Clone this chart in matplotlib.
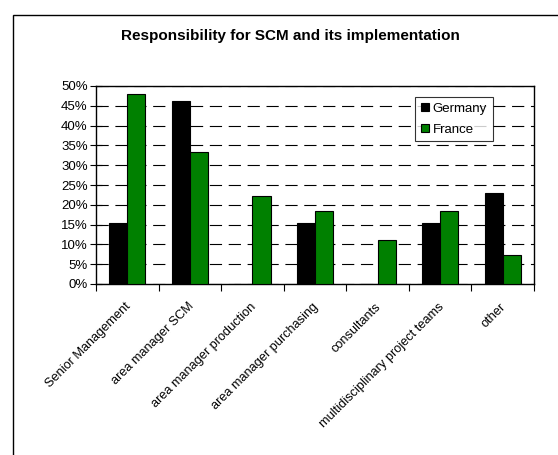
import matplotlib
matplotlib.use("Agg")
import matplotlib.pyplot as plt
from matplotlib.patches import Rectangle
import numpy as np

plt.rcParams["font.family"] = ["Liberation Sans", "DejaVu Sans"]

categories = [
    "Senior Management", "area manager SCM", "area manager production",
    "area manager purchasing", "consultants", "multidisciplinary project teams",
    "other",
]
germany = [15.4, 46.2, 0.0, 15.4, 0.0, 15.4, 23.1]
france = [48.1, 33.3, 22.2, 18.5, 11.1, 18.5, 7.4]
yticks = list(range(0, 55, 5))

fig = plt.figure(figsize=(5.58, 4.55), dpi=100)

# outer chart border (runs off the right and bottom of the image)
fig.add_artist(Rectangle((13 / 558, -0.1), 1.2, 1 - 15 / 455 + 0.1,
                         transform=fig.transFigure, fill=False,
                         edgecolor="black", lw=1.0))

ax = fig.add_axes([96 / 558, 1 - 284 / 455, (534 - 96) / 558, (284 - 86) / 455])

x = np.arange(len(categories))
w = 0.29
ax.bar(x - w / 2, germany, w, color="black", edgecolor="black", lw=0.8,
       label="Germany", zorder=3)
ax.bar(x + w / 2, france, w, color="#008000", edgecolor="black", lw=0.8,
       label="France", zorder=3)

ax.set_xlim(-0.5, len(categories) - 0.5)
ax.set_ylim(0, 50)
ax.set_yticks(yticks)
ax.set_yticklabels([f"{v}%" for v in yticks], fontsize=9.5)
ax.yaxis.grid(True, color="black", ls=(0, (11, 6)), lw=0.8, zorder=0)
ax.tick_params(axis="y", direction="inout", length=8, width=0.8, pad=2)

ax.set_xticks(np.arange(len(categories) + 1) - 0.5)
ax.set_xticklabels([])
ax.tick_params(axis="x", direction="out", length=5, width=0.8)
for i, lab in enumerate(categories):
    ax.text(i - 0.04, -4.2, lab, rotation=45, ha="right", va="top",
            rotation_mode="anchor", fontsize=9.2)

for s in ax.spines.values():
    s.set_linewidth(1.0)

leg = ax.legend(loc="upper right", bbox_to_anchor=(493 / 558, 1 - 97 / 455),
                bbox_transform=fig.transFigure, fontsize=9.5, frameon=True,
                fancybox=False, edgecolor="black", handlelength=0.6,
                handleheight=0.6, handletextpad=0.3, borderpad=0.45,
                labelspacing=0.65, borderaxespad=0)
leg.get_frame().set_linewidth(0.8)

fig.text(290 / 558, 1 - 36 / 455, "Responsibility for SCM and its implementation",
         ha="center", va="center", fontsize=11, fontweight="bold")

fig.savefig("out.png", dpi=100)
